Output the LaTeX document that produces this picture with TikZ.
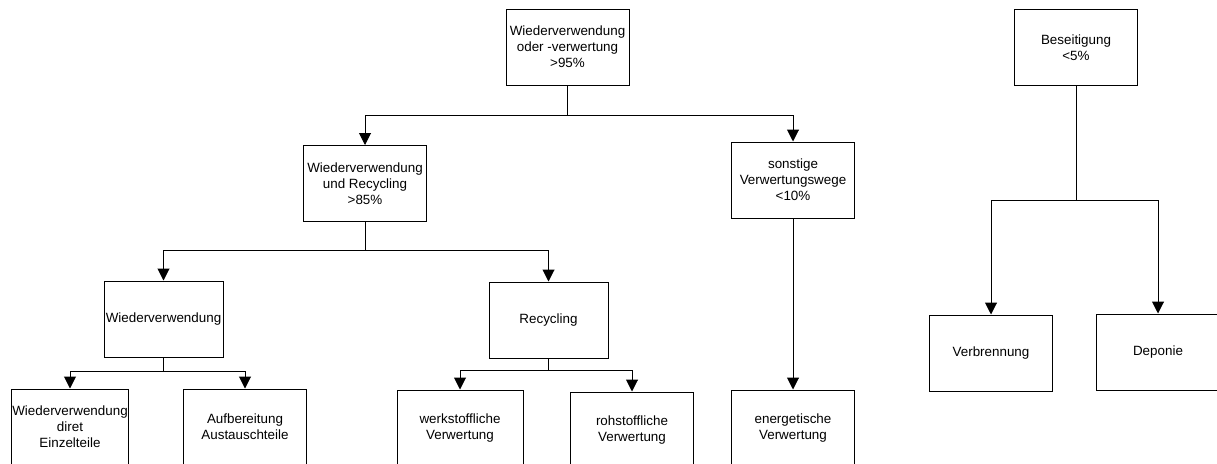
\documentclass[tikz,border=0pt]{standalone}
\usepackage{fontspec}
\setmainfont{Liberation Sans}
\usetikzlibrary{arrows.meta}
\begin{document}
\begin{tikzpicture}[x=1pt,y=-1pt,
  box/.style={draw, line width=1pt, minimum width=123pt, minimum height=76pt,
    align=center, inner sep=0pt, font=\fontsize{13.4}{16}\selectfont},
  conn/.style={line width=1pt},
  arr/.style={conn, -{Triangle[width=12pt,length=12pt]}}]
\useasboundingbox (0,0) rectangle (1217,463);
\clip (0,0) rectangle (1217,463);

\node[box] (top) at (567.5,47) {Wiederverwendung\\oder -verwertung\\>95\%};
\node[box] (wr) at (365,183.5) {Wiederverwendung\\und Recycling\\>85\%};
\node[box] (sv) at (793,180) {sonstige\\Verwertungswege\\<10\%};
\node[box, minimum width=119pt] (wv) at (163.5,319) {Wiederverwendung};
\node[box, minimum width=119pt] (rc) at (548.5,320) {Recycling};
\node[box, minimum width=117pt] (wde) at (70,427) {Wiederverwendung\\diret\\Einzelteile};
\node[box] (auf) at (245,427) {Aufbereitung\\Austauschteile};
\node[box, minimum width=126pt] (wk) at (460,428) {werkstoffliche\\Verwertung};
\node[box] (rs) at (632,430) {rohstoffliche\\Verwertung};
\node[box] (en) at (793,428) {energetische\\Verwertung};
\node[box] (bs) at (1076,47.5) {Beseitigung\\<5\%};
\node[box] (vb) at (991,353) {Verbrennung};
\node[box] (dp) at (1158,352) {Deponie};

\coordinate (j1) at (567.5,115);
\draw[conn] (top.south) -- (j1);
\draw[arr] (j1) -| (wr.north);
\draw[arr] (j1) -| (sv.north);

\coordinate (j2) at (365,250);
\draw[conn] (wr.south) -- (j2);
\draw[arr] (j2) -| (wv.north);
\draw[arr] (j2) -| (rc.north);

\coordinate (j3) at (163.5,371);
\draw[conn] (wv.south) -- (j3);
\draw[arr] (j3) -| (wde.north);
\draw[arr] (j3) -| (auf.north);

\coordinate (j4) at (548.5,370);
\draw[conn] (rc.south) -- (j4);
\draw[arr] (j4) -| (wk.north);
\draw[arr] (j4) -| (rs.north);

\draw[arr] (sv.south) -- (en.north);

\coordinate (j5) at (1076,200);
\draw[conn] (bs.south) -- (j5);
\draw[arr] (j5) -| (vb.north);
\draw[arr] (j5) -| (dp.north);
\end{tikzpicture}
\end{document}
